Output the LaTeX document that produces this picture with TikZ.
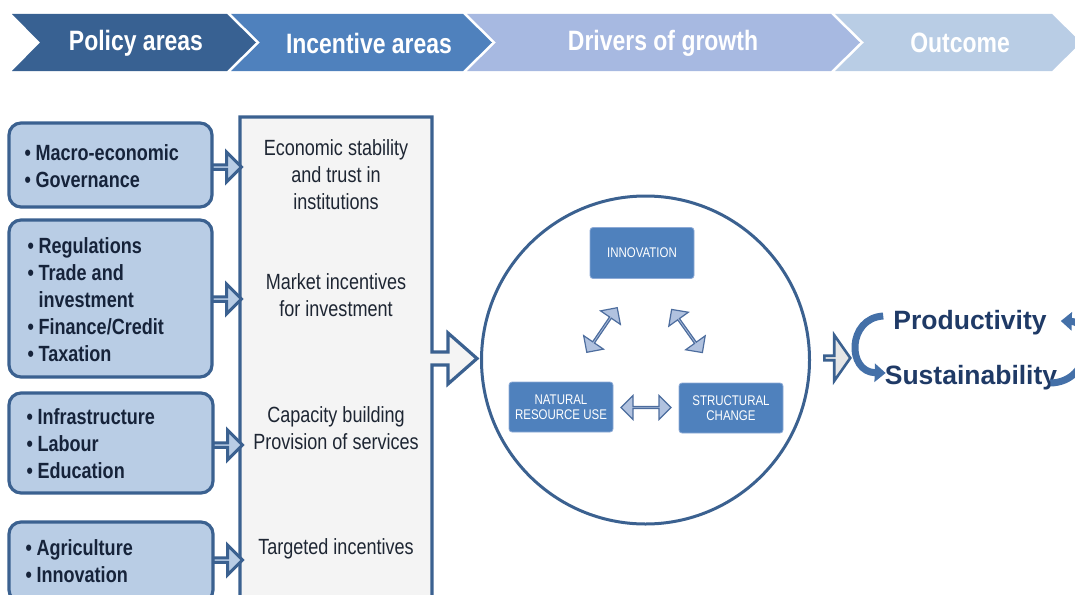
\documentclass[tikz,border=0pt]{standalone}
\usepackage{fontspec}
\setmainfont{Liberation Sans}
\newfontfamily\nar[FakeStretch=0.82]{Liberation Sans}
\usetikzlibrary{shapes.arrows,arrows.meta,calc}
\definecolor{chA}{HTML}{386192}
\definecolor{chB}{HTML}{4F81BD}
\definecolor{chC}{HTML}{A7B9E1}
\definecolor{chD}{HTML}{B9CDE5}
\definecolor{pfill}{HTML}{B9CDE5}
\definecolor{navy}{HTML}{3B6190}
\definecolor{gfill}{HTML}{F4F4F4}
\definecolor{ibfill}{HTML}{4F81BD}
\definecolor{ibline}{HTML}{8DAAD6}
\definecolor{dafill}{HTML}{B1C2DF}
\definecolor{daline}{HTML}{4D6D9E}
\definecolor{txtdark}{HTML}{16233A}
\definecolor{txtinc}{HTML}{1E2633}
\definecolor{outtxt}{HTML}{1F3A66}
\definecolor{carc}{HTML}{4470A8}
\definecolor{ogrey}{HTML}{E6E6E6}
\newcommand{\bl}{\makebox[11pt][l]{•}}
\begin{document}
\begin{tikzpicture}[x=1pt,y=-1pt,
  headtxt/.style={text=white,font=\nar\bfseries\fontsize{28}{30}\selectfont,inner sep=0},
  pbox/.style={draw=navy,fill=pfill,line width=3.2pt,rounded corners=12pt,minimum width=203pt,inner sep=0},
  ptxt/.style={anchor=west,align=left,inner sep=0,text=txtdark,font=\nar\bfseries\fontsize{22}{27}\selectfont},
  itxt/.style={align=center,inner sep=0,text=txtinc,font=\nar\fontsize{22}{27}\selectfont},
  parrow/.style={single arrow,draw=navy,fill=pfill,line width=3pt,minimum height=30pt,minimum width=30pt,single arrow head extend=8.5pt,inner sep=0,anchor=tail},
  ibox/.style={draw=ibline,fill=ibfill,line width=0.8pt,rounded corners=3pt,minimum width=104pt,minimum height=51pt,inner sep=0,align=center,text=white,font=\nar\fontsize{14}{14.5}\selectfont},
  darrow/.style={double arrow,draw=daline,fill=dafill,line width=1.2pt,minimum width=24pt,double arrow head extend=6pt,inner sep=0},
  oarrow/.style={single arrow,draw=navy,fill=ogrey,line width=2.6pt,minimum height=26pt,minimum width=46pt,single arrow head extend=12pt,single arrow tip angle=110,inner sep=0,anchor=tail},
  otxt/.style={text=outtxt,font=\bfseries\fontsize{26.5}{28}\selectfont,inner sep=0},
  carrow/.style={draw=carc,line width=7pt,-{Triangle[length=11pt,width=18pt]}}
]
\useasboundingbox (0,0) rectangle (1075,594);
\clip (0,0) rectangle (1075,594);

% header chevrons
\fill[chA] (12,14) -- (227,14) -- (256,42.5) -- (227,71) -- (12,71) -- (40,42.5) -- cycle;
\fill[chB] (231,14) -- (463,14) -- (492,42.5) -- (463,71) -- (231,71) -- (260,42.5) -- cycle;
\fill[chC] (467,14) -- (831,14) -- (860,42.5) -- (831,71) -- (467,71) -- (496,42.5) -- cycle;
\fill[chD] (835,14) -- (1052,14) -- (1081,42.5) -- (1052,71) -- (835,71) -- (864,42.5) -- cycle;
\node[headtxt] (h1) at (136,43) {Policy areas};
\node[headtxt] (h2) at (369,43) {Incentive areas};
\node[headtxt] (h3) at (663,43) {Drivers of growth};
\node[headtxt] (h4) at (960,43) {Outcome};

% incentive column with outgoing arrow
\draw[navy,fill=gfill,line width=3.2pt,line join=miter]
  (240,117) -- (432,117) -- (432,352) -- (448,352) -- (448,333) -- (477,358.5)
  -- (448,384) -- (448,365) -- (432,365) -- (432,620) -- (240,620) -- cycle;
\node[itxt] (i1) at (336,175) {Economic stability\\and trust in\\institutions};
\node[itxt] (i2) at (336,295.5) {Market incentives\\for investment};
\node[itxt] (i3) at (336,428.5) {Capacity building\\Provision of services};
\node[itxt] (i4) at (336,549) {Targeted incentives};

% policy arrows (drawn before boxes so box border covers tail)
\node[parrow] (a1) at (210,167) {};
\node[parrow] (a2) at (210,299) {};
\node[parrow] (a3) at (211,445) {};
\node[parrow] (a4) at (211,560) {};

% policy boxes
\node[pbox,minimum height=84pt] (p1) at (110.5,165) {};
\node[pbox,minimum height=157pt] (p2) at (110.5,298.5) {};
\node[pbox,minimum height=100pt,minimum width=204pt] (p3) at (111,443) {};
\node[pbox,minimum height=80pt,minimum width=204pt] (p4) at (111,562) {};
\node[ptxt] (t1) at ($(p1.west)+(17,1)$) {\bl Macro-economic\\\bl Governance};
\node[ptxt] (t2) at ($(p2.west)+(20,1)$) {\bl Regulations\\\bl Trade and\\\hspace*{11pt}investment\\\bl Finance/Credit\\\bl Taxation};
\node[ptxt] (t3) at ($(p3.west)+(19,1)$) {\bl Infrastructure\\\bl Labour\\\bl Education};
\node[ptxt] (t4) at ($(p4.west)+(18,-1)$) {\bl Agriculture\\\bl Innovation};

% drivers circle
\node[draw=navy,line width=3pt,circle,minimum size=328pt,inner sep=0] (circ) at (645.5,360) {};
\node[ibox] (inn) at (642,253) {INNOVATION};
\node[ibox,minimum height=50pt] (nr) at (561,407) {NATURAL\\RESOURCE USE};
\node[ibox,minimum height=50pt] (sc) at (731,408) {STRUCTURAL\\CHANGE};
\node[darrow,minimum height=50pt] (d1) at ($(nr.east)!0.5!(sc.west)$) {};
\node[darrow,minimum height=54pt,rotate=55.7] (d2) at (602,330) {};
\node[darrow,minimum height=53pt,rotate=-54.5] (d3) at (687,331) {};

% outcome
\node[oarrow] (oa) at (823,358) {};
\node[otxt] (prod) at (970,323) {Productivity};
\node[otxt] (sust) at (971,378) {Sustainability};
\draw[carrow] ($(prod.west)+(-10,-7)$) .. controls ($(prod.west)+(-46,-5)$) and ($(sust.west)+(-38,-6)$) .. ($(sust.west)+(1,-5)$);
\draw[carrow] ($(sust.east)+(-7,5)$) .. controls ($(sust.east)+(36,4)$) and ($(prod.east)+(47,-1)$) .. ($(prod.east)+(14,-2)$);
\end{tikzpicture}
\end{document}
